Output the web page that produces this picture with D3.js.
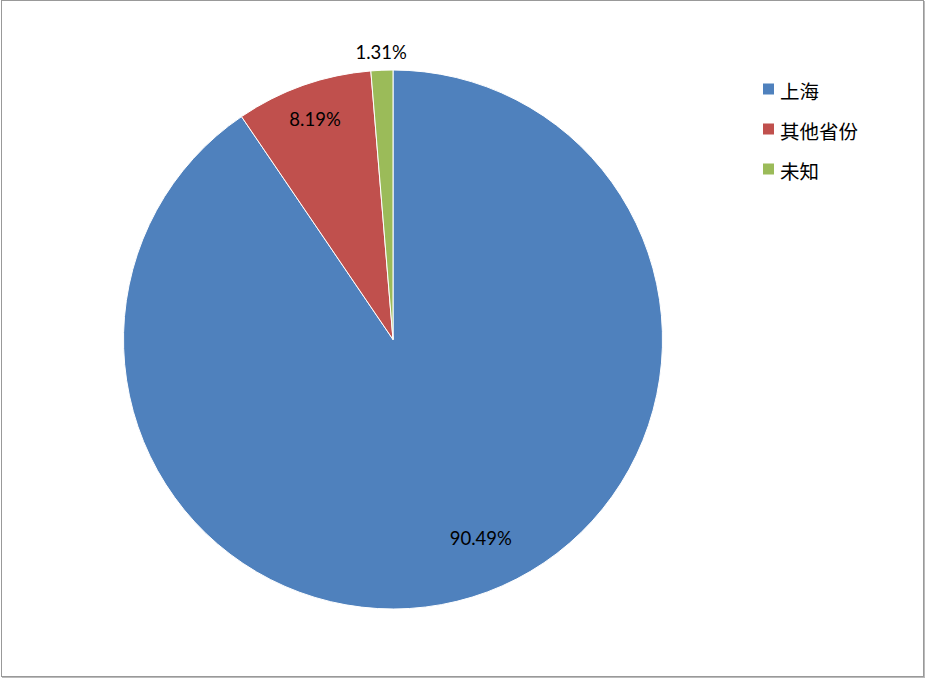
<!DOCTYPE html>
<html><head><meta charset="utf-8">
<script src="https://cdn.jsdelivr.net/npm/d3@7"></script>
<style>body{margin:0;background:#fff;}svg{display:block;}</style>
</head><body>
<script>
const categories = ["上海", "其他省份", "未知"];
const values = [90.49, 8.19, 1.31];
const labels = ["90.49%", "8.19%", "1.31%"];
const colors = ["#4F81BD", "#C0504D", "#9BBB59"];
const labelRadius = [217, 234, 288];
const labelShift = [[24, -9], [0, 0], [0, 0]];

const W = 926, H = 680;
const svg = d3.select("body").append("svg").attr("width", W).attr("height", H);
svg.append("rect").attr("x", 1.5).attr("y", 0.5).attr("width", 922).attr("height", 676)
  .attr("fill", "#fff").attr("stroke", "#999").attr("stroke-width", 1);
svg.append("line").attr("x1", 924.5).attr("y1", 1).attr("x2", 924.5).attr("y2", 678).attr("stroke", "#bbb");
svg.append("line").attr("x1", 2).attr("y1", 677.5).attr("x2", 925).attr("y2", 677.5).attr("stroke", "#bbb");

const cx = 393, cy = 339.5, R = 269.5;
const g = svg.append("g").attr("transform", `translate(${cx},${cy})`);
const pie = d3.pie().sort(null).value(d => d)(values);
const arc = d3.arc().innerRadius(0).outerRadius(R);
g.selectAll("path").data(pie).join("path")
  .attr("d", arc).attr("fill", (d, i) => colors[i])
  .attr("stroke", "#fff").attr("stroke-width", 1);

g.selectAll("text.lbl").data(pie).join("text").attr("class", "lbl")
  .attr("transform", (d, i) => {
    const c = d3.arc().innerRadius(labelRadius[i]).outerRadius(labelRadius[i]).centroid(d);
    return `translate(${c[0] + labelShift[i][0]},${c[1] + labelShift[i][1]})`;
  })
  .attr("text-anchor", "middle").attr("dominant-baseline", "central")
  .style("font-family", "Lato, 'Open Sans', sans-serif").style("font-size", "18.5px").attr("fill", "#000")
  .text((d, i) => labels[i]);

const legend = svg.append("g").attr("transform", "translate(763,89)");
const items = legend.selectAll("g").data(categories).join("g")
  .attr("transform", (d, i) => `translate(0,${i * 40})`);
items.append("rect").attr("x", 0).attr("y", -5.5).attr("width", 11).attr("height", 11)
  .attr("fill", (d, i) => colors[i]);
items.append("text").attr("x", 17).attr("y", 1).attr("dominant-baseline", "central")
  .style("font-family", "'Noto Sans CJK SC', sans-serif").style("font-size", "19.5px").attr("fill", "#000")
  .text(d => d);
</script>
</body></html>
